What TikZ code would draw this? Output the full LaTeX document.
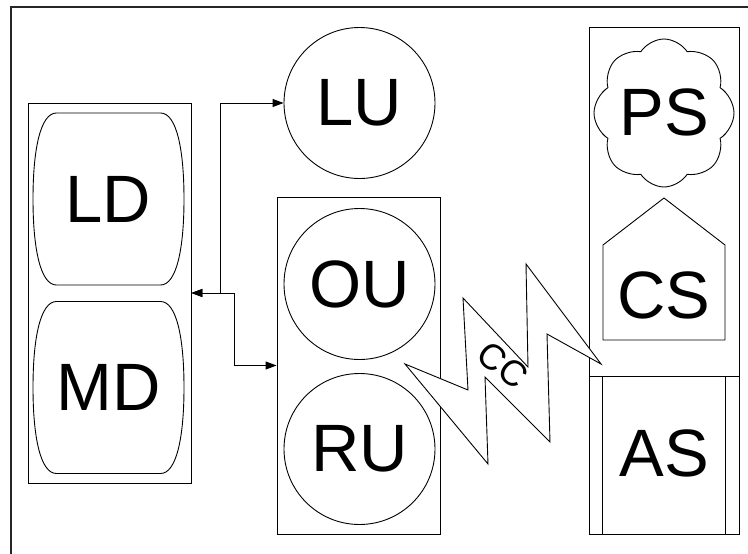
\documentclass[tikz,border=0pt]{standalone}
\usepackage{fontspec}
\setmainfont{Liberation Sans}
\usetikzlibrary{arrows.meta,shapes.symbols}

\tikzset{
  shapeline/.style={draw=black, line width=0.9pt},
  frameline/.style={draw=black!85, line width=1.5pt},
  label/.style={inner sep=0pt, font=\fontsize{67}{67}\selectfont},
  circ/.style={shapeline, circle, minimum size=151pt, inner sep=0pt, font=\fontsize{67}{67}\selectfont},
  grp/.style={shapeline, rectangle, inner sep=0pt},
  link/.style={draw=black, line width=1pt, {Triangle[length=11pt,width=8pt]}-{Triangle[length=11pt,width=8pt]}},
  pics/bulge/.style={code={
    \draw[shapeline]
      (-52,-86) -- (52,-86)
      .. controls (68,-86) and (75.5,-50) .. (75.5,0)
      .. controls (75.5,50) and (68,86) .. (52,86)
      -- (-52,86)
      .. controls (-68,86) and (-75.5,50) .. (-75.5,0)
      .. controls (-75.5,-50) and (-68,-86) .. (-52,-86) -- cycle;
  }}
}

\begin{document}
\begin{tikzpicture}[x=1pt,y=-1pt]
  \useasboundingbox (0,0) rectangle (748,554);
  \clip (0,0) rectangle (748,554);

  % outer frame, running past the right and bottom edges
  \draw[frameline] (11,7) rectangle (770,580);

  % left group with the two drive shapes
  \node[grp, minimum width=163pt, minimum height=380pt] (leftbox) at (109.5,293) {};
  \pic at (108.5,199) {bulge};
  \pic at (108.5,387.5) {bulge};
  \node[label] (LD) at (108.5,199.5) {LD};
  \node[label] (MD) at (108.5,387) {MD};

  % middle column
  \node[circ] (LU) at (359.5,103) {LU};
  \node[grp, minimum width=163pt, minimum height=337pt] (rightbox) at (358.5,365.5) {};
  \node[circ] (OU) at (359.5,284) {OU};
  \node[circ] (RU) at (359.5,449) {RU};

  % right column
  \node[grp, minimum width=150pt, minimum height=349pt] (topstack) at (664,201.5) {};
  \node[shapeline, cloud, cloud puffs=8, cloud puff arc=115,
        minimum width=140pt, minimum height=148pt, inner sep=0pt] (cloudPS) at (664,113) {};
  \node[label] (PS) at (664,112) {PS};
  \draw[shapeline] (603,340) -- (603,245) -- (664,198) -- (725,245) -- (725,340) -- cycle;
  \node[label] (CS) at (664,295) {CS};
  \node[grp, minimum width=150pt, minimum height=158pt] (asbox) at (664,455) {};
  \draw[shapeline] ([xshift=14pt]asbox.north west) -- ([xshift=14pt]asbox.south west);
  \draw[shapeline] ([xshift=-14pt]asbox.north east) -- ([xshift=-14pt]asbox.south east);
  \node[label] (AS) at (664,453) {AS};

  % connectors
  \draw[link] (leftbox.east) -- ++(29,0) |- (LU.west);
  \draw[link] (leftbox.east) -- ++(43,0) |- (rightbox.west);

  % lightning link
  \draw[shapeline, fill=white]
    (405,364) -- (468,390) -- (463,298) -- (528,367) -- (526,264) -- (601,364)
    -- (547,334) -- (550,442) -- (485,377) -- (488,464) -- cycle;
  \node[inner sep=0pt, rotate=-39, font=\fontsize{36}{36}\selectfont] (CC) at (503,365) {CC};
\end{tikzpicture}
\end{document}
